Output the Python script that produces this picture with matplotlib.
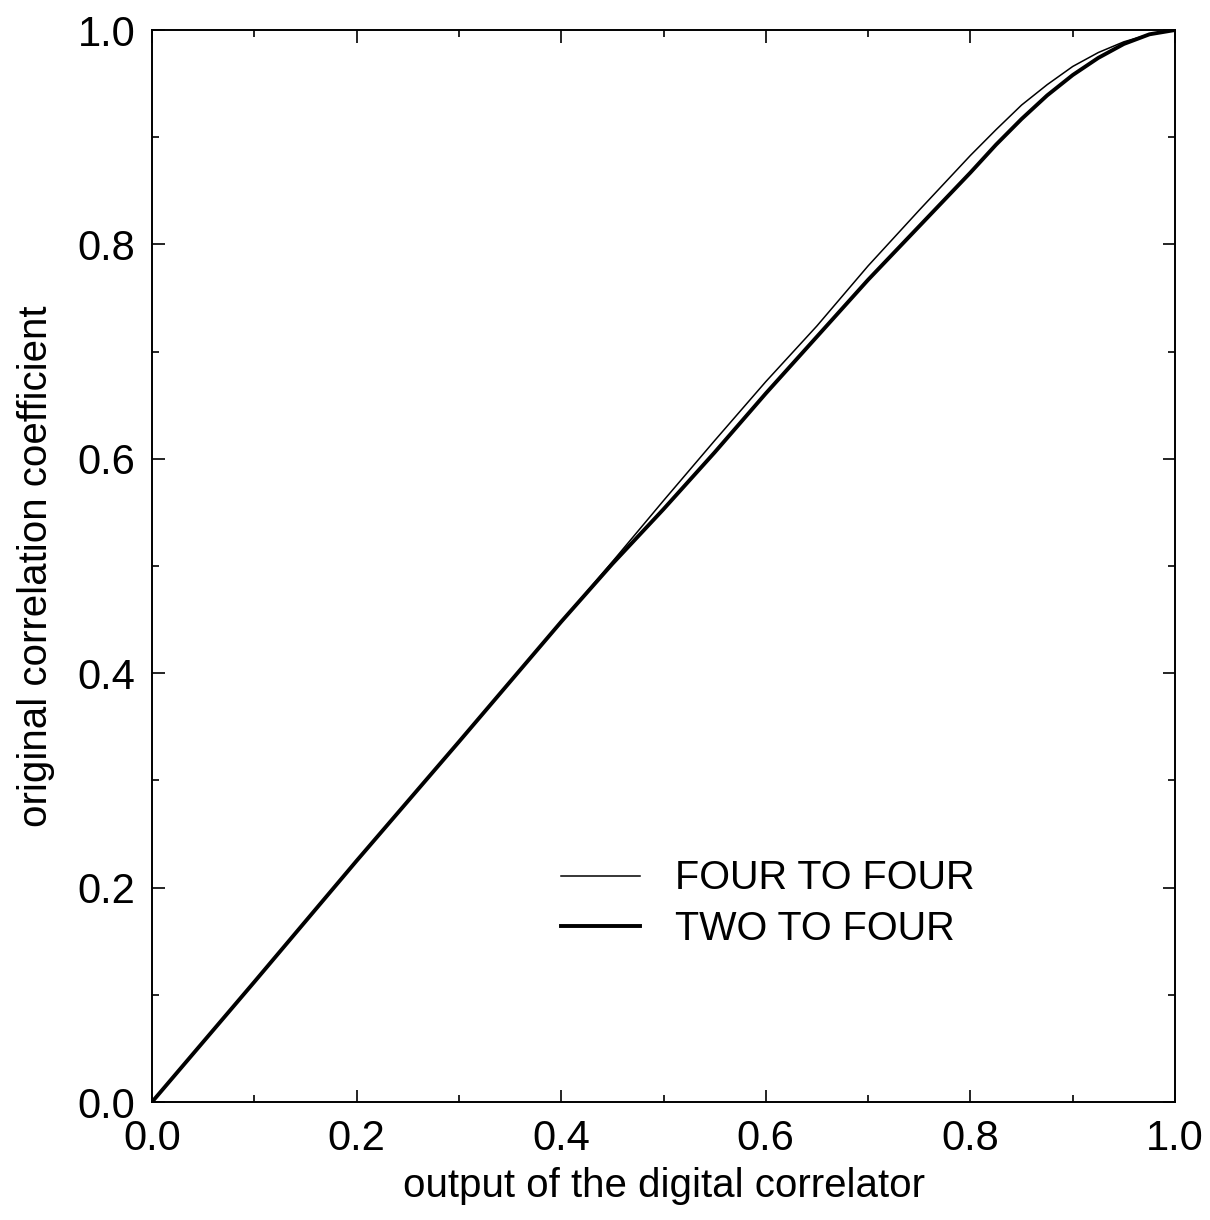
import matplotlib
matplotlib.use("Agg")
import matplotlib.pyplot as plt
from matplotlib.ticker import MultipleLocator

plt.rcParams['font.family'] = ['Liberation Sans', 'DejaVu Sans']

# output of the digital correlator
x_four = [0.0, 0.1, 0.2, 0.3, 0.4, 0.45, 0.5, 0.55, 0.6, 0.65, 0.7, 0.75,
          0.8, 0.825, 0.85, 0.875, 0.9, 0.925, 0.95, 0.975, 1.0]
# original correlation coefficient, four to four
y_four = [0.0, 0.112, 0.225, 0.336, 0.448, 0.504, 0.561, 0.617, 0.672, 0.724,
          0.780, 0.832, 0.883, 0.907, 0.930, 0.949, 0.966, 0.979, 0.989, 0.996, 1.0]

x_two = [0.0, 0.1, 0.2, 0.3, 0.4, 0.45, 0.5, 0.55, 0.6, 0.65, 0.7, 0.75,
         0.8, 0.825, 0.85, 0.875, 0.9, 0.925, 0.95, 0.975, 1.0]
# two to four
y_two = [0.0, 0.112, 0.225, 0.336, 0.448, 0.502, 0.553, 0.606, 0.661, 0.714,
         0.767, 0.817, 0.867, 0.893, 0.917, 0.939, 0.958, 0.974, 0.987, 0.996, 1.0]

fig = plt.figure(figsize=(12.1, 12.2), dpi=100)
ax = fig.add_axes([0.1256, 0.0967, 0.8455, 0.8787])

ax.plot(x_four, y_four, color='black', lw=1.1, label='FOUR TO FOUR')
ax.plot(x_two, y_two, color='black', lw=2.8, label='TWO TO FOUR')

ax.set_xlim(0, 1)
ax.set_ylim(0, 1)
ax.xaxis.set_major_locator(MultipleLocator(0.2))
ax.xaxis.set_minor_locator(MultipleLocator(0.1))
ax.yaxis.set_major_locator(MultipleLocator(0.2))
ax.yaxis.set_minor_locator(MultipleLocator(0.1))
ax.xaxis.set_major_formatter(plt.FormatStrFormatter('%.1f'))
ax.yaxis.set_major_formatter(plt.FormatStrFormatter('%.1f'))
ax.tick_params(which='both', direction='in', top=True, right=True, width=1.2)
ax.tick_params(which='major', length=9, labelsize=30, pad=12)
ax.tick_params(which='minor', length=5)
for sp in ax.spines.values():
    sp.set_linewidth(1.4)

ax.set_xlabel('output of the digital correlator', fontsize=29, labelpad=6)
ax.set_ylabel('original correlation coefficient', fontsize=29, labelpad=16)

ax.legend(loc='center left', bbox_to_anchor=(0.38, 0.185), frameon=False,
          fontsize=28.5, handlelength=2.0, handletextpad=0.9, labelspacing=0.32,
          borderpad=0)

plt.savefig('out.png', dpi=100)
